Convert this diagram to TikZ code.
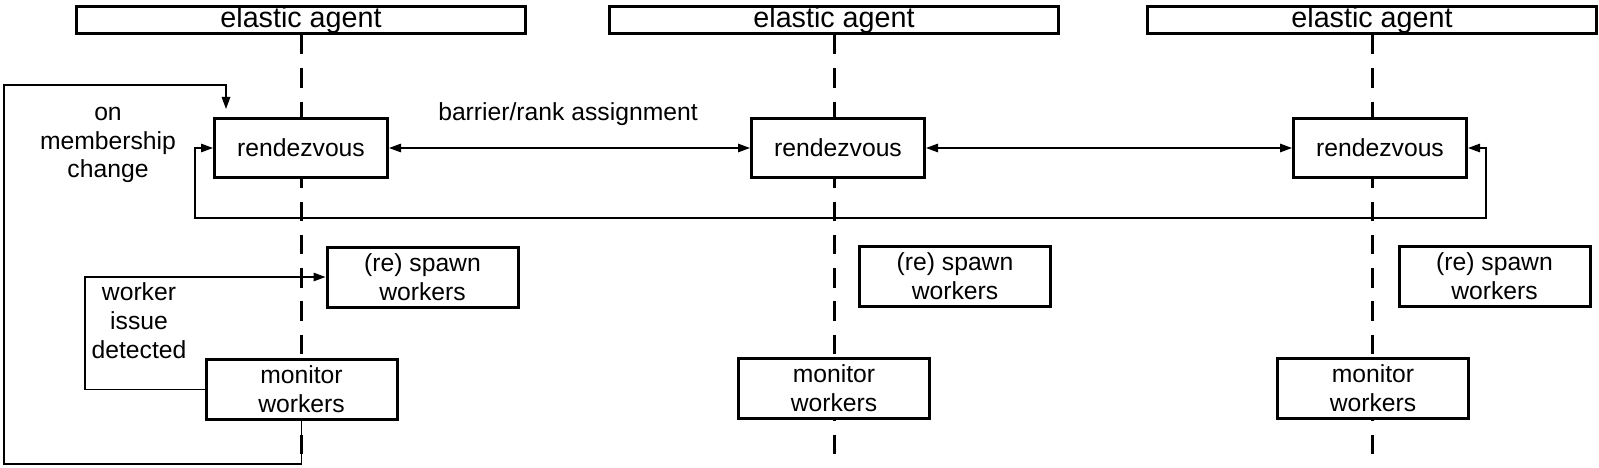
\documentclass[tikz,border=0pt]{standalone}
\usepackage{fontspec}
\setmainfont{Liberation Sans}
\usetikzlibrary{arrows.meta}
\begin{document}
\begin{tikzpicture}[x=1pt,y=-1pt,
  agentbox/.style={draw, line width=3pt, fill=white, minimum width=449pt, minimum height=27pt, inner sep=0pt, font=\fontsize{28.7}{33}\selectfont},
  stepbox/.style={draw, line width=3pt, fill=white, inner sep=0pt, align=center, font=\fontsize{24.7}{28.7}\selectfont},
  rdzbox/.style={stepbox, minimum width=173pt, minimum height=59pt},
  workbox/.style={stepbox, minimum width=191pt, minimum height=60pt},
  lifeline/.style={line width=3pt, dash pattern=on 19.5pt off 13.8pt},
  conn/.style={line width=1.3pt, -{Triangle[length=12pt,width=8.5pt]}},
  biconn/.style={line width=1.3pt, {Triangle[length=12pt,width=8.5pt]}-{Triangle[length=12pt,width=8.5pt]}},
  lbl/.style={inner sep=0pt, align=center, font=\fontsize{24.7}{28.7}\selectfont}
]
\useasboundingbox (0,0) rectangle (1599,468);

% agents
\node[agentbox] (ea1) at (301,20) {elastic agent};
\node[agentbox] (ea2) at (834,20) {elastic agent};
\node[agentbox] (ea3) at (1372,20) {elastic agent};

% lifelines
\coordinate (end1) at (301,455);
\coordinate (end2) at (834,455);
\coordinate (end3) at (1372,455);
\draw[lifeline] (ea1.south) -- (end1);
\draw[lifeline] (ea2.south) -- (end2);
\draw[lifeline] (ea3.south) -- (end3);

% rendezvous
\node[rdzbox] (r1) at (301,148) {rendezvous};
\node[rdzbox] (r2) at (838,148) {rendezvous};
\node[rdzbox] (r3) at (1380,148) {rendezvous};

% spawn
\node[workbox] (s1) at (422.5,277) {(re) spawn\\workers};
\node[workbox] (s2) at (955,276) {(re) spawn\\workers};
\node[workbox] (s3) at (1494.5,276) {(re) spawn\\workers};

% monitor
\node[workbox] (m1) at (301.5,389.5) {monitor\\workers};
\node[workbox] (m2) at (834,388) {monitor\\workers};
\node[workbox] (m3) at (1373,388) {monitor\\workers};

% labels
\node[lbl, anchor=base] (barrier) at (568,121) {barrier/rank assignment};
\node[lbl] (member) at (108,145) {on\\membership\\change};
\node[lbl] (issue) at (139,320.7) {worker\\issue\\detected};

% connectors
\draw[biconn] (r1.east) -- (r2.west);
\draw[biconn] (r2.east) -- (r3.west);

\coordinate (bl) at (195,218);
\coordinate (br) at (1486,218);
\draw[biconn] (r1.west) -| (bl) -- (br) |- (r3.east);

\coordinate (ob) at (4,464);
\coordinate (otl) at (4,85);
\coordinate (ot) at (226,109);
\draw[conn] (m1.south) |- (ob) -- (otl) -| (ot);

\coordinate (wl) at (85,277);
\draw[conn] (m1.west) -| (wl) -- (s1.west);
\end{tikzpicture}
\end{document}
